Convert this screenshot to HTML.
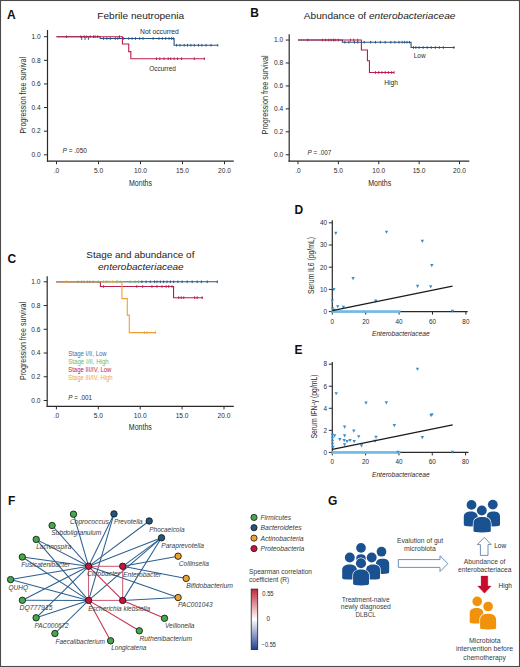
<!DOCTYPE html>
<html><head><meta charset="utf-8"><style>
html,body{margin:0;padding:0;background:#fff;}
.wrap{position:relative;width:520px;height:667px;overflow:hidden;}
svg{display:block;font-family:"Liberation Sans", sans-serif;}
</style></head><body><div class="wrap">
<svg width="520" height="667" viewBox="0 0 520 667">
<rect x="0" y="0" width="520" height="667" fill="#fff"/>
<line x1="47.50" y1="30.00" x2="47.50" y2="161.80" stroke="#2a2a2a" stroke-width="1.2"/>
<line x1="46.90" y1="161.20" x2="233.80" y2="161.20" stroke="#2a2a2a" stroke-width="1.2"/>
<line x1="44.00" y1="154.80" x2="47.50" y2="154.80" stroke="#2a2a2a" stroke-width="1"/>
<text x="40.6" y="157.10000000000002" font-size="6.6" text-anchor="end" fill="#2b2b2b">0.0</text>
<line x1="44.00" y1="131.18" x2="47.50" y2="131.18" stroke="#2a2a2a" stroke-width="1"/>
<text x="40.6" y="133.48000000000002" font-size="6.6" text-anchor="end" fill="#2b2b2b">0.2</text>
<line x1="44.00" y1="107.56" x2="47.50" y2="107.56" stroke="#2a2a2a" stroke-width="1"/>
<text x="40.6" y="109.86" font-size="6.6" text-anchor="end" fill="#2b2b2b">0.4</text>
<line x1="44.00" y1="83.94" x2="47.50" y2="83.94" stroke="#2a2a2a" stroke-width="1"/>
<text x="40.6" y="86.24" font-size="6.6" text-anchor="end" fill="#2b2b2b">0.6</text>
<line x1="44.00" y1="60.32" x2="47.50" y2="60.32" stroke="#2a2a2a" stroke-width="1"/>
<text x="40.6" y="62.620000000000005" font-size="6.6" text-anchor="end" fill="#2b2b2b">0.8</text>
<line x1="44.00" y1="36.70" x2="47.50" y2="36.70" stroke="#2a2a2a" stroke-width="1"/>
<text x="40.6" y="39.000000000000014" font-size="6.6" text-anchor="end" fill="#2b2b2b">1.0</text>
<line x1="56.50" y1="161.20" x2="56.50" y2="164.20" stroke="#2a2a2a" stroke-width="1"/>
<text x="56.5" y="173.0" font-size="6.6" text-anchor="middle" fill="#2b2b2b">.0</text>
<line x1="98.50" y1="161.20" x2="98.50" y2="164.20" stroke="#2a2a2a" stroke-width="1"/>
<text x="98.5" y="173.0" font-size="6.6" text-anchor="middle" fill="#2b2b2b">5.0</text>
<line x1="140.50" y1="161.20" x2="140.50" y2="164.20" stroke="#2a2a2a" stroke-width="1"/>
<text x="140.5" y="173.0" font-size="6.6" text-anchor="middle" fill="#2b2b2b">10.0</text>
<line x1="182.50" y1="161.20" x2="182.50" y2="164.20" stroke="#2a2a2a" stroke-width="1"/>
<text x="182.5" y="173.0" font-size="6.6" text-anchor="middle" fill="#2b2b2b">15.0</text>
<line x1="224.50" y1="161.20" x2="224.50" y2="164.20" stroke="#2a2a2a" stroke-width="1"/>
<text x="224.5" y="173.0" font-size="6.6" text-anchor="middle" fill="#2b2b2b">20.0</text>
<text transform="translate(26.3,95.3) rotate(-90)" font-size="8.6" text-anchor="middle" textLength="76.5" lengthAdjust="spacingAndGlyphs" fill="#2b2b2b">Progression free survival</text>
<text x="129" y="185.8" font-size="8.8" textLength="23" lengthAdjust="spacingAndGlyphs" fill="#2b2b2b">Months</text>
<text x="7" y="19" font-size="12" font-weight="bold" fill="#111">A</text>
<text x="97.3" y="19.4" font-size="9.2" textLength="86.9" lengthAdjust="spacingAndGlyphs" fill="#222">Febrile neutropenia</text>
<text x="140" y="34.1" font-size="6.6" textLength="38.8" lengthAdjust="spacingAndGlyphs" fill="#2b2b2b">Not occurred</text>
<text x="149.2" y="70.7" font-size="6.6" textLength="26.7" lengthAdjust="spacingAndGlyphs" fill="#2b2b2b">Occurred</text>
<text x="62.5" y="152.5" font-size="6.3" textLength="24.5" lengthAdjust="spacingAndGlyphs" fill="#2b2b2b"><tspan font-style="italic">P</tspan> = .050</text>
<polyline points="56.50,36.70 100.18,36.70 100.18,36.70 100.18,38.50 174.10,38.50 174.10,38.50 174.10,45.20 217.78,45.20" fill="none" stroke="#245384" stroke-width="1.1"/>
<line x1="81.70" y1="37.20" x2="81.70" y2="39.80" stroke="#245384" stroke-width="1.0"/>
<line x1="85.06" y1="37.20" x2="85.06" y2="39.80" stroke="#245384" stroke-width="1.0"/>
<line x1="88.42" y1="37.20" x2="88.42" y2="39.80" stroke="#245384" stroke-width="1.0"/>
<line x1="103.54" y1="37.20" x2="103.54" y2="39.80" stroke="#245384" stroke-width="1.0"/>
<line x1="106.90" y1="37.20" x2="106.90" y2="39.80" stroke="#245384" stroke-width="1.0"/>
<line x1="110.26" y1="37.20" x2="110.26" y2="39.80" stroke="#245384" stroke-width="1.0"/>
<line x1="115.30" y1="37.20" x2="115.30" y2="39.80" stroke="#245384" stroke-width="1.0"/>
<line x1="117.82" y1="37.20" x2="117.82" y2="39.80" stroke="#245384" stroke-width="1.0"/>
<line x1="123.70" y1="37.20" x2="123.70" y2="39.80" stroke="#245384" stroke-width="1.0"/>
<line x1="128.74" y1="37.20" x2="128.74" y2="39.80" stroke="#245384" stroke-width="1.0"/>
<line x1="132.10" y1="37.20" x2="132.10" y2="39.80" stroke="#245384" stroke-width="1.0"/>
<line x1="135.46" y1="37.20" x2="135.46" y2="39.80" stroke="#245384" stroke-width="1.0"/>
<line x1="139.66" y1="37.20" x2="139.66" y2="39.80" stroke="#245384" stroke-width="1.0"/>
<line x1="143.02" y1="37.20" x2="143.02" y2="39.80" stroke="#245384" stroke-width="1.0"/>
<line x1="153.10" y1="37.20" x2="153.10" y2="39.80" stroke="#245384" stroke-width="1.0"/>
<line x1="158.98" y1="37.20" x2="158.98" y2="39.80" stroke="#245384" stroke-width="1.0"/>
<line x1="162.34" y1="37.20" x2="162.34" y2="39.80" stroke="#245384" stroke-width="1.0"/>
<line x1="165.70" y1="37.20" x2="165.70" y2="39.80" stroke="#245384" stroke-width="1.0"/>
<line x1="169.06" y1="37.20" x2="169.06" y2="39.80" stroke="#245384" stroke-width="1.0"/>
<line x1="171.58" y1="37.20" x2="171.58" y2="39.80" stroke="#245384" stroke-width="1.0"/>
<line x1="173.26" y1="37.20" x2="173.26" y2="39.80" stroke="#245384" stroke-width="1.0"/>
<line x1="176.62" y1="43.90" x2="176.62" y2="46.50" stroke="#245384" stroke-width="1.0"/>
<line x1="179.98" y1="43.90" x2="179.98" y2="46.50" stroke="#245384" stroke-width="1.0"/>
<line x1="184.18" y1="43.90" x2="184.18" y2="46.50" stroke="#245384" stroke-width="1.0"/>
<line x1="187.54" y1="43.90" x2="187.54" y2="46.50" stroke="#245384" stroke-width="1.0"/>
<line x1="190.90" y1="43.90" x2="190.90" y2="46.50" stroke="#245384" stroke-width="1.0"/>
<line x1="194.26" y1="43.90" x2="194.26" y2="46.50" stroke="#245384" stroke-width="1.0"/>
<line x1="198.46" y1="43.90" x2="198.46" y2="46.50" stroke="#245384" stroke-width="1.0"/>
<line x1="201.82" y1="43.90" x2="201.82" y2="46.50" stroke="#245384" stroke-width="1.0"/>
<line x1="206.02" y1="43.90" x2="206.02" y2="46.50" stroke="#245384" stroke-width="1.0"/>
<line x1="211.06" y1="43.90" x2="211.06" y2="46.50" stroke="#245384" stroke-width="1.0"/>
<line x1="217.78" y1="43.90" x2="217.78" y2="46.50" stroke="#245384" stroke-width="1.0"/>
<polyline points="56.50,36.70 122.44,36.70 122.44,36.70 122.44,44.00 128.74,44.00 128.74,44.00 128.74,51.60 130.84,51.60 130.84,51.60 130.84,58.70 204.34,58.70" fill="none" stroke="#bb1d4a" stroke-width="1.1"/>
<line x1="66.58" y1="35.40" x2="66.58" y2="38.00" stroke="#bb1d4a" stroke-width="1.0"/>
<line x1="80.86" y1="35.40" x2="80.86" y2="38.00" stroke="#bb1d4a" stroke-width="1.0"/>
<line x1="84.22" y1="35.40" x2="84.22" y2="38.00" stroke="#bb1d4a" stroke-width="1.0"/>
<line x1="86.74" y1="35.40" x2="86.74" y2="38.00" stroke="#bb1d4a" stroke-width="1.0"/>
<line x1="90.10" y1="35.40" x2="90.10" y2="38.00" stroke="#bb1d4a" stroke-width="1.0"/>
<line x1="93.46" y1="35.40" x2="93.46" y2="38.00" stroke="#bb1d4a" stroke-width="1.0"/>
<line x1="95.14" y1="35.40" x2="95.14" y2="38.00" stroke="#bb1d4a" stroke-width="1.0"/>
<line x1="97.66" y1="35.40" x2="97.66" y2="38.00" stroke="#bb1d4a" stroke-width="1.0"/>
<line x1="119.50" y1="35.40" x2="119.50" y2="38.00" stroke="#bb1d4a" stroke-width="1.0"/>
<line x1="156.46" y1="57.40" x2="156.46" y2="60.00" stroke="#bb1d4a" stroke-width="1.0"/>
<line x1="159.82" y1="57.40" x2="159.82" y2="60.00" stroke="#bb1d4a" stroke-width="1.0"/>
<line x1="164.02" y1="57.40" x2="164.02" y2="60.00" stroke="#bb1d4a" stroke-width="1.0"/>
<line x1="168.22" y1="57.40" x2="168.22" y2="60.00" stroke="#bb1d4a" stroke-width="1.0"/>
<line x1="170.74" y1="57.40" x2="170.74" y2="60.00" stroke="#bb1d4a" stroke-width="1.0"/>
<line x1="174.10" y1="57.40" x2="174.10" y2="60.00" stroke="#bb1d4a" stroke-width="1.0"/>
<line x1="177.46" y1="57.40" x2="177.46" y2="60.00" stroke="#bb1d4a" stroke-width="1.0"/>
<line x1="181.66" y1="57.40" x2="181.66" y2="60.00" stroke="#bb1d4a" stroke-width="1.0"/>
<line x1="194.26" y1="57.40" x2="194.26" y2="60.00" stroke="#bb1d4a" stroke-width="1.0"/>
<line x1="204.34" y1="57.40" x2="204.34" y2="60.00" stroke="#bb1d4a" stroke-width="1.0"/>
<line x1="289.20" y1="34.30" x2="289.20" y2="161.80" stroke="#2a2a2a" stroke-width="1.2"/>
<line x1="288.60" y1="161.20" x2="469.30" y2="161.20" stroke="#2a2a2a" stroke-width="1.2"/>
<line x1="285.70" y1="154.75" x2="289.20" y2="154.75" stroke="#2a2a2a" stroke-width="1"/>
<text x="283.2" y="157.05" font-size="6.6" text-anchor="end" fill="#2b2b2b">0.0</text>
<line x1="285.70" y1="131.81" x2="289.20" y2="131.81" stroke="#2a2a2a" stroke-width="1"/>
<text x="283.2" y="134.11" font-size="6.6" text-anchor="end" fill="#2b2b2b">0.2</text>
<line x1="285.70" y1="108.87" x2="289.20" y2="108.87" stroke="#2a2a2a" stroke-width="1"/>
<text x="283.2" y="111.17" font-size="6.6" text-anchor="end" fill="#2b2b2b">0.4</text>
<line x1="285.70" y1="85.93" x2="289.20" y2="85.93" stroke="#2a2a2a" stroke-width="1"/>
<text x="283.2" y="88.22999999999999" font-size="6.6" text-anchor="end" fill="#2b2b2b">0.6</text>
<line x1="285.70" y1="62.99" x2="289.20" y2="62.99" stroke="#2a2a2a" stroke-width="1"/>
<text x="283.2" y="65.28999999999999" font-size="6.6" text-anchor="end" fill="#2b2b2b">0.8</text>
<line x1="285.70" y1="40.05" x2="289.20" y2="40.05" stroke="#2a2a2a" stroke-width="1"/>
<text x="283.2" y="42.349999999999994" font-size="6.6" text-anchor="end" fill="#2b2b2b">1.0</text>
<line x1="298.00" y1="161.20" x2="298.00" y2="164.20" stroke="#2a2a2a" stroke-width="1"/>
<text x="298.0" y="173.0" font-size="6.6" text-anchor="middle" fill="#2b2b2b">.0</text>
<line x1="338.38" y1="161.20" x2="338.38" y2="164.20" stroke="#2a2a2a" stroke-width="1"/>
<text x="338.375" y="173.0" font-size="6.6" text-anchor="middle" fill="#2b2b2b">5.0</text>
<line x1="378.75" y1="161.20" x2="378.75" y2="164.20" stroke="#2a2a2a" stroke-width="1"/>
<text x="378.75" y="173.0" font-size="6.6" text-anchor="middle" fill="#2b2b2b">10.0</text>
<line x1="419.12" y1="161.20" x2="419.12" y2="164.20" stroke="#2a2a2a" stroke-width="1"/>
<text x="419.125" y="173.0" font-size="6.6" text-anchor="middle" fill="#2b2b2b">15.0</text>
<line x1="459.50" y1="161.20" x2="459.50" y2="164.20" stroke="#2a2a2a" stroke-width="1"/>
<text x="459.5" y="173.0" font-size="6.6" text-anchor="middle" fill="#2b2b2b">20.0</text>
<text transform="translate(268.2,94.9) rotate(-90)" font-size="8.6" text-anchor="middle" textLength="79" lengthAdjust="spacingAndGlyphs" fill="#2b2b2b">Progression free survival</text>
<text x="368.2" y="185.6" font-size="8.8" textLength="23" lengthAdjust="spacingAndGlyphs" fill="#2b2b2b">Months</text>
<text x="250.3" y="16.8" font-size="12" font-weight="bold" fill="#111">B</text>
<text x="303.8" y="19.2" font-size="9.2" textLength="151.6" lengthAdjust="spacingAndGlyphs" fill="#222">Abundance of <tspan font-style="italic">enterobacteriaceae</tspan></text>
<text x="413.8" y="57.8" font-size="6.6" textLength="11.7" lengthAdjust="spacingAndGlyphs" fill="#2b2b2b">Low</text>
<text x="384.3" y="84.8" font-size="6.6" textLength="13.7" lengthAdjust="spacingAndGlyphs" fill="#2b2b2b">High</text>
<text x="307.5" y="154.5" font-size="6.3" textLength="23.8" lengthAdjust="spacingAndGlyphs" fill="#2b2b2b"><tspan font-style="italic">P</tspan> = .007</text>
<polyline points="298.00,40.05 342.41,40.05 342.41,40.05 342.41,42.20 411.05,42.20 411.05,42.20 411.05,47.50 454.65,47.50" fill="none" stroke="#245384" stroke-width="1.1"/>
<line x1="344.83" y1="40.90" x2="344.83" y2="43.50" stroke="#245384" stroke-width="1.0"/>
<line x1="348.87" y1="40.90" x2="348.87" y2="43.50" stroke="#245384" stroke-width="1.0"/>
<line x1="354.52" y1="40.90" x2="354.52" y2="43.50" stroke="#245384" stroke-width="1.0"/>
<line x1="357.75" y1="40.90" x2="357.75" y2="43.50" stroke="#245384" stroke-width="1.0"/>
<line x1="364.21" y1="40.90" x2="364.21" y2="43.50" stroke="#245384" stroke-width="1.0"/>
<line x1="370.68" y1="40.90" x2="370.68" y2="43.50" stroke="#245384" stroke-width="1.0"/>
<line x1="375.52" y1="40.90" x2="375.52" y2="43.50" stroke="#245384" stroke-width="1.0"/>
<line x1="380.37" y1="40.90" x2="380.37" y2="43.50" stroke="#245384" stroke-width="1.0"/>
<line x1="385.21" y1="40.90" x2="385.21" y2="43.50" stroke="#245384" stroke-width="1.0"/>
<line x1="390.86" y1="40.90" x2="390.86" y2="43.50" stroke="#245384" stroke-width="1.0"/>
<line x1="394.90" y1="40.90" x2="394.90" y2="43.50" stroke="#245384" stroke-width="1.0"/>
<line x1="398.94" y1="40.90" x2="398.94" y2="43.50" stroke="#245384" stroke-width="1.0"/>
<line x1="402.17" y1="40.90" x2="402.17" y2="43.50" stroke="#245384" stroke-width="1.0"/>
<line x1="404.59" y1="40.90" x2="404.59" y2="43.50" stroke="#245384" stroke-width="1.0"/>
<line x1="407.01" y1="40.90" x2="407.01" y2="43.50" stroke="#245384" stroke-width="1.0"/>
<line x1="409.44" y1="40.90" x2="409.44" y2="43.50" stroke="#245384" stroke-width="1.0"/>
<line x1="413.47" y1="46.20" x2="413.47" y2="48.80" stroke="#245384" stroke-width="1.0"/>
<line x1="415.89" y1="46.20" x2="415.89" y2="48.80" stroke="#245384" stroke-width="1.0"/>
<line x1="419.12" y1="46.20" x2="419.12" y2="48.80" stroke="#245384" stroke-width="1.0"/>
<line x1="423.16" y1="46.20" x2="423.16" y2="48.80" stroke="#245384" stroke-width="1.0"/>
<line x1="427.20" y1="46.20" x2="427.20" y2="48.80" stroke="#245384" stroke-width="1.0"/>
<line x1="431.24" y1="46.20" x2="431.24" y2="48.80" stroke="#245384" stroke-width="1.0"/>
<line x1="435.27" y1="46.20" x2="435.27" y2="48.80" stroke="#245384" stroke-width="1.0"/>
<line x1="439.31" y1="46.20" x2="439.31" y2="48.80" stroke="#245384" stroke-width="1.0"/>
<line x1="443.35" y1="46.20" x2="443.35" y2="48.80" stroke="#245384" stroke-width="1.0"/>
<line x1="453.85" y1="46.20" x2="453.85" y2="48.80" stroke="#245384" stroke-width="1.0"/>
<polyline points="298.00,40.05 361.39,40.05 361.39,40.05 361.39,50.00 367.44,50.00 367.44,50.00 367.44,60.70 369.46,60.70 369.46,60.70 369.46,72.50 394.09,72.50" fill="none" stroke="#bb1d4a" stroke-width="1.1"/>
<line x1="307.69" y1="38.75" x2="307.69" y2="41.35" stroke="#bb1d4a" stroke-width="1.0"/>
<line x1="322.23" y1="38.75" x2="322.23" y2="41.35" stroke="#bb1d4a" stroke-width="1.0"/>
<line x1="325.45" y1="38.75" x2="325.45" y2="41.35" stroke="#bb1d4a" stroke-width="1.0"/>
<line x1="328.69" y1="38.75" x2="328.69" y2="41.35" stroke="#bb1d4a" stroke-width="1.0"/>
<line x1="331.11" y1="38.75" x2="331.11" y2="41.35" stroke="#bb1d4a" stroke-width="1.0"/>
<line x1="333.53" y1="38.75" x2="333.53" y2="41.35" stroke="#bb1d4a" stroke-width="1.0"/>
<line x1="335.14" y1="38.75" x2="335.14" y2="41.35" stroke="#bb1d4a" stroke-width="1.0"/>
<line x1="338.38" y1="38.75" x2="338.38" y2="41.35" stroke="#bb1d4a" stroke-width="1.0"/>
<line x1="350.49" y1="38.75" x2="350.49" y2="41.35" stroke="#bb1d4a" stroke-width="1.0"/>
<line x1="353.72" y1="38.75" x2="353.72" y2="41.35" stroke="#bb1d4a" stroke-width="1.0"/>
<line x1="357.75" y1="38.75" x2="357.75" y2="41.35" stroke="#bb1d4a" stroke-width="1.0"/>
<line x1="375.52" y1="71.20" x2="375.52" y2="73.80" stroke="#bb1d4a" stroke-width="1.0"/>
<line x1="378.75" y1="71.20" x2="378.75" y2="73.80" stroke="#bb1d4a" stroke-width="1.0"/>
<line x1="381.98" y1="71.20" x2="381.98" y2="73.80" stroke="#bb1d4a" stroke-width="1.0"/>
<line x1="385.21" y1="71.20" x2="385.21" y2="73.80" stroke="#bb1d4a" stroke-width="1.0"/>
<line x1="388.44" y1="71.20" x2="388.44" y2="73.80" stroke="#bb1d4a" stroke-width="1.0"/>
<line x1="391.67" y1="71.20" x2="391.67" y2="73.80" stroke="#bb1d4a" stroke-width="1.0"/>
<line x1="394.09" y1="71.20" x2="394.09" y2="73.80" stroke="#bb1d4a" stroke-width="1.0"/>
<line x1="47.20" y1="276.30" x2="47.20" y2="407.00" stroke="#2a2a2a" stroke-width="1.2"/>
<line x1="46.60" y1="406.40" x2="233.80" y2="406.40" stroke="#2a2a2a" stroke-width="1.2"/>
<line x1="43.70" y1="400.50" x2="47.20" y2="400.50" stroke="#2a2a2a" stroke-width="1"/>
<text x="40.4" y="402.8" font-size="6.6" text-anchor="end" fill="#2b2b2b">0.0</text>
<line x1="43.70" y1="376.76" x2="47.20" y2="376.76" stroke="#2a2a2a" stroke-width="1"/>
<text x="40.4" y="379.06" font-size="6.6" text-anchor="end" fill="#2b2b2b">0.2</text>
<line x1="43.70" y1="353.02" x2="47.20" y2="353.02" stroke="#2a2a2a" stroke-width="1"/>
<text x="40.4" y="355.32" font-size="6.6" text-anchor="end" fill="#2b2b2b">0.4</text>
<line x1="43.70" y1="329.28" x2="47.20" y2="329.28" stroke="#2a2a2a" stroke-width="1"/>
<text x="40.4" y="331.58" font-size="6.6" text-anchor="end" fill="#2b2b2b">0.6</text>
<line x1="43.70" y1="305.54" x2="47.20" y2="305.54" stroke="#2a2a2a" stroke-width="1"/>
<text x="40.4" y="307.84" font-size="6.6" text-anchor="end" fill="#2b2b2b">0.8</text>
<line x1="43.70" y1="281.80" x2="47.20" y2="281.80" stroke="#2a2a2a" stroke-width="1"/>
<text x="40.4" y="284.1" font-size="6.6" text-anchor="end" fill="#2b2b2b">1.0</text>
<line x1="56.40" y1="406.40" x2="56.40" y2="409.40" stroke="#2a2a2a" stroke-width="1"/>
<text x="56.4" y="418.2" font-size="6.6" text-anchor="middle" fill="#2b2b2b">.0</text>
<line x1="98.30" y1="406.40" x2="98.30" y2="409.40" stroke="#2a2a2a" stroke-width="1"/>
<text x="98.30000000000001" y="418.2" font-size="6.6" text-anchor="middle" fill="#2b2b2b">5.0</text>
<line x1="140.20" y1="406.40" x2="140.20" y2="409.40" stroke="#2a2a2a" stroke-width="1"/>
<text x="140.20000000000002" y="418.2" font-size="6.6" text-anchor="middle" fill="#2b2b2b">10.0</text>
<line x1="182.10" y1="406.40" x2="182.10" y2="409.40" stroke="#2a2a2a" stroke-width="1"/>
<text x="182.10000000000002" y="418.2" font-size="6.6" text-anchor="middle" fill="#2b2b2b">15.0</text>
<line x1="224.00" y1="406.40" x2="224.00" y2="409.40" stroke="#2a2a2a" stroke-width="1"/>
<text x="224.00000000000003" y="418.2" font-size="6.6" text-anchor="middle" fill="#2b2b2b">20.0</text>
<text transform="translate(26.3,341) rotate(-90)" font-size="8.6" text-anchor="middle" textLength="78" lengthAdjust="spacingAndGlyphs" fill="#2b2b2b">Progression free survival</text>
<text x="128.8" y="430.3" font-size="8.8" textLength="23" lengthAdjust="spacingAndGlyphs" fill="#2b2b2b">Months</text>
<text x="7.5" y="263.2" font-size="12" font-weight="bold" fill="#111">C</text>
<text x="86.3" y="257.5" font-size="9.2" textLength="108.1" lengthAdjust="spacingAndGlyphs" fill="#222">Stage and abundance of</text>
<text x="98" y="269.5" font-size="9.2" font-style="italic" textLength="85.7" lengthAdjust="spacingAndGlyphs" fill="#222">enterobacteriaceae</text>
<text x="68.2" y="356.2" font-size="6.4" textLength="38.5" lengthAdjust="spacingAndGlyphs" fill="#3a6fa5">Stage I/II, Low</text>
<text x="68.2" y="364.1" font-size="6.4" textLength="40.6" lengthAdjust="spacingAndGlyphs" fill="#6db86d">Stage I/II, High</text>
<text x="68.2" y="372.1" font-size="6.4" textLength="43.2" lengthAdjust="spacingAndGlyphs" fill="#b8244e">Stage III/IV, Low</text>
<text x="68.2" y="379.9" font-size="6.4" textLength="44.5" lengthAdjust="spacingAndGlyphs" fill="#f2a640">Stage III/IV, High</text>
<text x="68.2" y="400.2" font-size="6.3" textLength="23.8" lengthAdjust="spacingAndGlyphs" fill="#2b2b2b"><tspan font-style="italic">P</tspan> = .001</text>
<polyline points="56.40,281.80 217.30,281.80" fill="none" stroke="#245384" stroke-width="1.1"/>
<line x1="141.88" y1="280.50" x2="141.88" y2="283.10" stroke="#245384" stroke-width="1.0"/>
<line x1="146.07" y1="280.50" x2="146.07" y2="283.10" stroke="#245384" stroke-width="1.0"/>
<line x1="150.26" y1="280.50" x2="150.26" y2="283.10" stroke="#245384" stroke-width="1.0"/>
<line x1="154.45" y1="280.50" x2="154.45" y2="283.10" stroke="#245384" stroke-width="1.0"/>
<line x1="156.96" y1="280.50" x2="156.96" y2="283.10" stroke="#245384" stroke-width="1.0"/>
<line x1="160.31" y1="280.50" x2="160.31" y2="283.10" stroke="#245384" stroke-width="1.0"/>
<line x1="163.66" y1="280.50" x2="163.66" y2="283.10" stroke="#245384" stroke-width="1.0"/>
<line x1="167.02" y1="280.50" x2="167.02" y2="283.10" stroke="#245384" stroke-width="1.0"/>
<line x1="170.37" y1="280.50" x2="170.37" y2="283.10" stroke="#245384" stroke-width="1.0"/>
<line x1="173.72" y1="280.50" x2="173.72" y2="283.10" stroke="#245384" stroke-width="1.0"/>
<line x1="177.91" y1="280.50" x2="177.91" y2="283.10" stroke="#245384" stroke-width="1.0"/>
<line x1="182.10" y1="280.50" x2="182.10" y2="283.10" stroke="#245384" stroke-width="1.0"/>
<line x1="187.13" y1="280.50" x2="187.13" y2="283.10" stroke="#245384" stroke-width="1.0"/>
<line x1="192.16" y1="280.50" x2="192.16" y2="283.10" stroke="#245384" stroke-width="1.0"/>
<line x1="197.18" y1="280.50" x2="197.18" y2="283.10" stroke="#245384" stroke-width="1.0"/>
<line x1="201.37" y1="280.50" x2="201.37" y2="283.10" stroke="#245384" stroke-width="1.0"/>
<line x1="207.24" y1="280.50" x2="207.24" y2="283.10" stroke="#245384" stroke-width="1.0"/>
<line x1="217.30" y1="280.50" x2="217.30" y2="283.10" stroke="#245384" stroke-width="1.0"/>
<polyline points="56.40,281.80 140.20,281.80" fill="none" stroke="#6bb56b" stroke-width="1.1"/>
<line x1="78.19" y1="280.50" x2="78.19" y2="283.10" stroke="#6bb56b" stroke-width="1.0"/>
<line x1="81.54" y1="280.50" x2="81.54" y2="283.10" stroke="#6bb56b" stroke-width="1.0"/>
<line x1="84.05" y1="280.50" x2="84.05" y2="283.10" stroke="#6bb56b" stroke-width="1.0"/>
<line x1="87.41" y1="280.50" x2="87.41" y2="283.10" stroke="#6bb56b" stroke-width="1.0"/>
<line x1="89.92" y1="280.50" x2="89.92" y2="283.10" stroke="#6bb56b" stroke-width="1.0"/>
<line x1="93.27" y1="280.50" x2="93.27" y2="283.10" stroke="#6bb56b" stroke-width="1.0"/>
<line x1="98.30" y1="280.50" x2="98.30" y2="283.10" stroke="#6bb56b" stroke-width="1.0"/>
<line x1="103.33" y1="280.50" x2="103.33" y2="283.10" stroke="#6bb56b" stroke-width="1.0"/>
<line x1="106.68" y1="280.50" x2="106.68" y2="283.10" stroke="#6bb56b" stroke-width="1.0"/>
<line x1="116.74" y1="280.50" x2="116.74" y2="283.10" stroke="#6bb56b" stroke-width="1.0"/>
<line x1="120.09" y1="280.50" x2="120.09" y2="283.10" stroke="#6bb56b" stroke-width="1.0"/>
<line x1="130.14" y1="280.50" x2="130.14" y2="283.10" stroke="#6bb56b" stroke-width="1.0"/>
<line x1="135.17" y1="280.50" x2="135.17" y2="283.10" stroke="#6bb56b" stroke-width="1.0"/>
<line x1="138.52" y1="280.50" x2="138.52" y2="283.10" stroke="#6bb56b" stroke-width="1.0"/>
<polyline points="56.40,281.80 100.40,281.80 100.40,281.80 100.40,286.50 173.55,286.50 173.55,286.50 173.55,297.70 203.05,297.70" fill="none" stroke="#bb1d4a" stroke-width="1.1"/>
<line x1="103.33" y1="285.20" x2="103.33" y2="287.80" stroke="#bb1d4a" stroke-width="1.0"/>
<line x1="136.85" y1="285.20" x2="136.85" y2="287.80" stroke="#bb1d4a" stroke-width="1.0"/>
<line x1="142.71" y1="285.20" x2="142.71" y2="287.80" stroke="#bb1d4a" stroke-width="1.0"/>
<line x1="151.93" y1="285.20" x2="151.93" y2="287.80" stroke="#bb1d4a" stroke-width="1.0"/>
<line x1="156.96" y1="285.20" x2="156.96" y2="287.80" stroke="#bb1d4a" stroke-width="1.0"/>
<line x1="161.99" y1="285.20" x2="161.99" y2="287.80" stroke="#bb1d4a" stroke-width="1.0"/>
<line x1="166.18" y1="285.20" x2="166.18" y2="287.80" stroke="#bb1d4a" stroke-width="1.0"/>
<line x1="168.69" y1="285.20" x2="168.69" y2="287.80" stroke="#bb1d4a" stroke-width="1.0"/>
<line x1="172.04" y1="285.20" x2="172.04" y2="287.80" stroke="#bb1d4a" stroke-width="1.0"/>
<line x1="178.75" y1="296.40" x2="178.75" y2="299.00" stroke="#bb1d4a" stroke-width="1.0"/>
<line x1="181.26" y1="296.40" x2="181.26" y2="299.00" stroke="#bb1d4a" stroke-width="1.0"/>
<line x1="183.78" y1="296.40" x2="183.78" y2="299.00" stroke="#bb1d4a" stroke-width="1.0"/>
<line x1="194.67" y1="296.40" x2="194.67" y2="299.00" stroke="#bb1d4a" stroke-width="1.0"/>
<line x1="197.18" y1="296.40" x2="197.18" y2="299.00" stroke="#bb1d4a" stroke-width="1.0"/>
<line x1="202.21" y1="296.40" x2="202.21" y2="299.00" stroke="#bb1d4a" stroke-width="1.0"/>
<polyline points="56.40,281.80 121.93,281.80 121.93,281.80 121.93,298.60 127.29,298.60 127.29,298.60 127.29,315.10 129.31,315.10 129.31,315.10 129.31,332.60 155.70,332.60" fill="none" stroke="#f0a030" stroke-width="1.1"/>
<line x1="66.46" y1="280.50" x2="66.46" y2="283.10" stroke="#f0a030" stroke-width="1.0"/>
<line x1="105.84" y1="280.50" x2="105.84" y2="283.10" stroke="#f0a030" stroke-width="1.0"/>
<line x1="109.19" y1="280.50" x2="109.19" y2="283.10" stroke="#f0a030" stroke-width="1.0"/>
<line x1="112.55" y1="280.50" x2="112.55" y2="283.10" stroke="#f0a030" stroke-width="1.0"/>
<line x1="117.57" y1="280.50" x2="117.57" y2="283.10" stroke="#f0a030" stroke-width="1.0"/>
<line x1="144.39" y1="331.30" x2="144.39" y2="333.90" stroke="#f0a030" stroke-width="1.0"/>
<line x1="146.90" y1="331.30" x2="146.90" y2="333.90" stroke="#f0a030" stroke-width="1.0"/>
<line x1="155.28" y1="331.30" x2="155.28" y2="333.90" stroke="#f0a030" stroke-width="1.0"/>
<text x="294.4" y="213.5" font-size="12" font-weight="bold" fill="#111">D</text>
<line x1="332.30" y1="220.20" x2="332.30" y2="312.20" stroke="#2a2a2a" stroke-width="1.2"/>
<line x1="331.70" y1="311.60" x2="467.70" y2="311.60" stroke="#2a2a2a" stroke-width="1.2"/>
<line x1="328.80" y1="311.60" x2="332.30" y2="311.60" stroke="#2a2a2a" stroke-width="1"/>
<text x="327.1" y="313.90000000000003" font-size="6.4" text-anchor="end" fill="#2b2b2b">0</text>
<line x1="328.80" y1="289.40" x2="332.30" y2="289.40" stroke="#2a2a2a" stroke-width="1"/>
<text x="327.1" y="291.70000000000005" font-size="6.4" text-anchor="end" fill="#2b2b2b">10</text>
<line x1="328.80" y1="267.20" x2="332.30" y2="267.20" stroke="#2a2a2a" stroke-width="1"/>
<text x="327.1" y="269.50000000000006" font-size="6.4" text-anchor="end" fill="#2b2b2b">20</text>
<line x1="328.80" y1="245.00" x2="332.30" y2="245.00" stroke="#2a2a2a" stroke-width="1"/>
<text x="327.1" y="247.3" font-size="6.4" text-anchor="end" fill="#2b2b2b">30</text>
<line x1="328.80" y1="222.80" x2="332.30" y2="222.80" stroke="#2a2a2a" stroke-width="1"/>
<text x="327.1" y="225.10000000000002" font-size="6.4" text-anchor="end" fill="#2b2b2b">40</text>
<line x1="332.30" y1="311.60" x2="332.30" y2="314.60" stroke="#2a2a2a" stroke-width="1"/>
<text x="332.3" y="323.6" font-size="6.4" text-anchor="middle" fill="#2b2b2b">0</text>
<line x1="365.70" y1="311.60" x2="365.70" y2="314.60" stroke="#2a2a2a" stroke-width="1"/>
<text x="365.7" y="323.6" font-size="6.4" text-anchor="middle" fill="#2b2b2b">20</text>
<line x1="399.10" y1="311.60" x2="399.10" y2="314.60" stroke="#2a2a2a" stroke-width="1"/>
<text x="399.1" y="323.6" font-size="6.4" text-anchor="middle" fill="#2b2b2b">40</text>
<line x1="432.50" y1="311.60" x2="432.50" y2="314.60" stroke="#2a2a2a" stroke-width="1"/>
<text x="432.5" y="323.6" font-size="6.4" text-anchor="middle" fill="#2b2b2b">60</text>
<line x1="465.90" y1="311.60" x2="465.90" y2="314.60" stroke="#2a2a2a" stroke-width="1"/>
<text x="465.9" y="323.6" font-size="6.4" text-anchor="middle" fill="#2b2b2b">80</text>
<text transform="translate(314.2,265.5) rotate(-90)" font-size="8.8" text-anchor="middle" textLength="57" lengthAdjust="spacingAndGlyphs" fill="#2b2b2b">Serum IL6 (pg/mL)</text>
<text x="372" y="336" font-size="8" font-style="italic" textLength="57.6" lengthAdjust="spacingAndGlyphs" fill="#2b2b2b">Enterobacteriaceae</text>
<rect x="331.5" y="310.2" width="69" height="2.6" fill="#6fbbe6"/>
<path d="M334.10,231.74L337.50,231.74L335.80,234.97Z" fill="#3a90c6"/>
<path d="M384.80,230.64L388.20,230.64L386.50,233.87Z" fill="#3a90c6"/>
<path d="M420.60,239.74L424.00,239.74L422.30,242.97Z" fill="#3a90c6"/>
<path d="M430.10,264.04L433.50,264.04L431.80,267.27Z" fill="#3a90c6"/>
<path d="M415.90,284.84L419.30,284.84L417.60,288.07Z" fill="#3a90c6"/>
<path d="M429.00,285.24L432.40,285.24L430.70,288.47Z" fill="#3a90c6"/>
<path d="M351.40,276.94L354.80,276.94L353.10,280.17Z" fill="#3a90c6"/>
<path d="M332.10,288.04L335.50,288.04L333.80,291.27Z" fill="#3a90c6"/>
<path d="M330.60,299.44L334.00,299.44L332.30,302.67Z" fill="#3a90c6"/>
<path d="M336.00,305.14L339.40,305.14L337.70,308.37Z" fill="#3a90c6"/>
<path d="M341.70,305.64L345.10,305.64L343.40,308.87Z" fill="#3a90c6"/>
<path d="M374.00,299.44L377.40,299.44L375.70,302.67Z" fill="#3a90c6"/>
<path d="M330.80,307.14L334.20,307.14L332.50,310.37Z" fill="#3a90c6"/>
<path d="M332.30,308.64L335.70,308.64L334.00,311.87Z" fill="#3a90c6"/>
<path d="M450.80,309.64L454.20,309.64L452.50,312.87Z" fill="#3a90c6"/>
<line x1="332.30" y1="310.60" x2="452.50" y2="286.20" stroke="#1a1a1a" stroke-width="1.2"/>
<text x="294.4" y="354.4" font-size="12" font-weight="bold" fill="#111">E</text>
<line x1="332.30" y1="362.10" x2="332.30" y2="453.00" stroke="#2a2a2a" stroke-width="1.2"/>
<line x1="331.70" y1="452.40" x2="468.50" y2="452.40" stroke="#2a2a2a" stroke-width="1.2"/>
<line x1="328.80" y1="452.40" x2="332.30" y2="452.40" stroke="#2a2a2a" stroke-width="1"/>
<text x="327.1" y="454.7" font-size="6.4" text-anchor="end" fill="#2b2b2b">0</text>
<line x1="328.80" y1="430.34" x2="332.30" y2="430.34" stroke="#2a2a2a" stroke-width="1"/>
<text x="327.1" y="432.64" font-size="6.4" text-anchor="end" fill="#2b2b2b">2</text>
<line x1="328.80" y1="408.28" x2="332.30" y2="408.28" stroke="#2a2a2a" stroke-width="1"/>
<text x="327.1" y="410.58" font-size="6.4" text-anchor="end" fill="#2b2b2b">4</text>
<line x1="328.80" y1="386.22" x2="332.30" y2="386.22" stroke="#2a2a2a" stroke-width="1"/>
<text x="327.1" y="388.52" font-size="6.4" text-anchor="end" fill="#2b2b2b">6</text>
<line x1="328.80" y1="364.16" x2="332.30" y2="364.16" stroke="#2a2a2a" stroke-width="1"/>
<text x="327.1" y="366.46" font-size="6.4" text-anchor="end" fill="#2b2b2b">8</text>
<line x1="332.30" y1="452.40" x2="332.30" y2="455.40" stroke="#2a2a2a" stroke-width="1"/>
<text x="332.3" y="464.4" font-size="6.4" text-anchor="middle" fill="#2b2b2b">0</text>
<line x1="365.62" y1="452.40" x2="365.62" y2="455.40" stroke="#2a2a2a" stroke-width="1"/>
<text x="365.62" y="464.4" font-size="6.4" text-anchor="middle" fill="#2b2b2b">20</text>
<line x1="398.94" y1="452.40" x2="398.94" y2="455.40" stroke="#2a2a2a" stroke-width="1"/>
<text x="398.94" y="464.4" font-size="6.4" text-anchor="middle" fill="#2b2b2b">40</text>
<line x1="432.26" y1="452.40" x2="432.26" y2="455.40" stroke="#2a2a2a" stroke-width="1"/>
<text x="432.26" y="464.4" font-size="6.4" text-anchor="middle" fill="#2b2b2b">60</text>
<line x1="465.58" y1="452.40" x2="465.58" y2="455.40" stroke="#2a2a2a" stroke-width="1"/>
<text x="465.58000000000004" y="464.4" font-size="6.4" text-anchor="middle" fill="#2b2b2b">80</text>
<text transform="translate(317.0,406.5) rotate(-90)" font-size="8.8" text-anchor="middle" textLength="64" lengthAdjust="spacingAndGlyphs" fill="#2b2b2b">Serum IFN-γ (pg/mL)</text>
<text x="372" y="476.5" font-size="8" font-style="italic" textLength="57.6" lengthAdjust="spacingAndGlyphs" fill="#2b2b2b">Enterobacteriaceae</text>
<rect x="331.5" y="451.2" width="69" height="2.6" fill="#6fbbe6"/>
<path d="M364.30,401.54L367.70,401.54L366.00,404.77Z" fill="#3a90c6"/>
<path d="M384.60,401.34L388.00,401.34L386.30,404.57Z" fill="#3a90c6"/>
<path d="M392.60,424.04L396.00,424.04L394.30,427.27Z" fill="#3a90c6"/>
<path d="M342.90,425.54L346.30,425.54L344.60,428.77Z" fill="#3a90c6"/>
<path d="M352.10,429.44L355.50,429.44L353.80,432.67Z" fill="#3a90c6"/>
<path d="M332.90,434.24L336.30,434.24L334.60,437.47Z" fill="#3a90c6"/>
<path d="M342.90,434.24L346.30,434.24L344.60,437.47Z" fill="#3a90c6"/>
<path d="M357.00,435.14L360.40,435.14L358.70,438.37Z" fill="#3a90c6"/>
<path d="M374.30,435.74L377.70,435.74L376.00,438.97Z" fill="#3a90c6"/>
<path d="M338.10,438.04L341.50,438.04L339.80,441.27Z" fill="#3a90c6"/>
<path d="M342.50,439.04L345.90,439.04L344.20,442.27Z" fill="#3a90c6"/>
<path d="M345.40,439.94L348.80,439.94L347.10,443.17Z" fill="#3a90c6"/>
<path d="M348.30,439.04L351.70,439.04L350.00,442.27Z" fill="#3a90c6"/>
<path d="M352.50,439.94L355.90,439.94L354.20,443.17Z" fill="#3a90c6"/>
<path d="M342.90,443.24L346.30,443.24L344.60,446.47Z" fill="#3a90c6"/>
<path d="M359.80,444.24L363.20,444.24L361.50,447.47Z" fill="#3a90c6"/>
<path d="M373.30,439.64L376.70,439.64L375.00,442.87Z" fill="#3a90c6"/>
<path d="M415.80,367.64L419.20,367.64L417.50,370.87Z" fill="#3a90c6"/>
<path d="M429.30,414.04L432.70,414.04L431.00,417.27Z" fill="#3a90c6"/>
<path d="M430.30,413.14L433.70,413.14L432.00,416.37Z" fill="#3a90c6"/>
<path d="M420.60,435.94L424.00,435.94L422.30,439.17Z" fill="#3a90c6"/>
<path d="M334.50,392.14L337.90,392.14L336.20,395.37Z" fill="#3a90c6"/>
<path d="M330.80,433.64L334.20,433.64L332.50,436.87Z" fill="#3a90c6"/>
<path d="M330.80,436.64L334.20,436.64L332.50,439.87Z" fill="#3a90c6"/>
<path d="M330.80,439.64L334.20,439.64L332.50,442.87Z" fill="#3a90c6"/>
<path d="M330.80,442.64L334.20,442.64L332.50,445.87Z" fill="#3a90c6"/>
<path d="M331.30,445.64L334.70,445.64L333.00,448.87Z" fill="#3a90c6"/>
<path d="M450.80,450.64L454.20,450.64L452.50,453.87Z" fill="#3a90c6"/>
<path d="M396.30,450.64L399.70,450.64L398.00,453.87Z" fill="#3a90c6"/>
<line x1="332.30" y1="449.40" x2="452.70" y2="424.80" stroke="#1a1a1a" stroke-width="1.2"/>
<text x="8" y="504.5" font-size="12" font-weight="bold" fill="#111">F</text>
<line x1="88.60" y1="566.30" x2="73.50" y2="514.20" stroke="#2d5f8e" stroke-width="1.05"/>
<line x1="88.60" y1="566.30" x2="114.00" y2="513.90" stroke="#2d5f8e" stroke-width="1.05"/>
<line x1="88.60" y1="566.30" x2="52.10" y2="525.50" stroke="#2d5f8e" stroke-width="1.05"/>
<line x1="88.60" y1="566.30" x2="36.20" y2="539.40" stroke="#2d5f8e" stroke-width="1.05"/>
<line x1="88.60" y1="566.30" x2="22.30" y2="557.00" stroke="#2d5f8e" stroke-width="1.05"/>
<line x1="88.60" y1="566.30" x2="10.60" y2="579.60" stroke="#2d5f8e" stroke-width="1.05"/>
<line x1="88.60" y1="566.30" x2="22.40" y2="600.30" stroke="#2d5f8e" stroke-width="1.05"/>
<line x1="88.60" y1="566.30" x2="36.10" y2="617.80" stroke="#2d5f8e" stroke-width="1.05"/>
<line x1="88.60" y1="566.30" x2="161.50" y2="537.80" stroke="#2d5f8e" stroke-width="1.05"/>
<line x1="88.60" y1="566.30" x2="149.20" y2="521.00" stroke="#2d5f8e" stroke-width="1.05"/>
<line x1="88.60" y1="566.30" x2="178.10" y2="597.50" stroke="#2d5f8e" stroke-width="1.05"/>
<line x1="88.60" y1="600.40" x2="114.00" y2="513.90" stroke="#2d5f8e" stroke-width="1.05"/>
<line x1="88.60" y1="600.40" x2="36.20" y2="539.40" stroke="#2d5f8e" stroke-width="1.05"/>
<line x1="88.60" y1="600.40" x2="22.30" y2="557.00" stroke="#2d5f8e" stroke-width="1.05"/>
<line x1="88.60" y1="600.40" x2="10.60" y2="579.60" stroke="#2d5f8e" stroke-width="1.05"/>
<line x1="88.60" y1="600.40" x2="22.40" y2="600.30" stroke="#2d5f8e" stroke-width="1.05"/>
<line x1="88.60" y1="600.40" x2="36.10" y2="617.80" stroke="#2d5f8e" stroke-width="1.05"/>
<line x1="88.60" y1="600.40" x2="54.90" y2="633.50" stroke="#2d5f8e" stroke-width="1.05"/>
<line x1="88.60" y1="600.40" x2="161.50" y2="537.80" stroke="#2d5f8e" stroke-width="1.05"/>
<line x1="122.70" y1="566.30" x2="161.50" y2="537.80" stroke="#2d5f8e" stroke-width="1.05"/>
<line x1="122.70" y1="566.30" x2="178.10" y2="556.20" stroke="#2d5f8e" stroke-width="1.05"/>
<line x1="122.70" y1="566.30" x2="186.20" y2="578.40" stroke="#2d5f8e" stroke-width="1.05"/>
<line x1="122.70" y1="600.40" x2="178.10" y2="597.50" stroke="#2d5f8e" stroke-width="1.05"/>
<line x1="122.70" y1="600.40" x2="161.50" y2="537.80" stroke="#2d5f8e" stroke-width="1.05"/>
<line x1="88.60" y1="600.40" x2="110.60" y2="640.80" stroke="#c4304f" stroke-width="1.05"/>
<line x1="88.60" y1="600.40" x2="139.30" y2="630.80" stroke="#c4304f" stroke-width="1.05"/>
<line x1="122.70" y1="600.40" x2="164.50" y2="618.30" stroke="#c4304f" stroke-width="1.05"/>
<line x1="88.60" y1="566.30" x2="122.70" y2="600.40" stroke="#c4304f" stroke-width="1.05"/>
<line x1="88.60" y1="566.30" x2="122.70" y2="566.30" stroke="#cc5470" stroke-width="1.0"/>
<line x1="88.60" y1="566.30" x2="88.60" y2="600.40" stroke="#cc5470" stroke-width="1.0"/>
<line x1="122.70" y1="566.30" x2="122.70" y2="600.40" stroke="#cc5470" stroke-width="1.0"/>
<line x1="88.60" y1="600.40" x2="122.70" y2="600.40" stroke="#cc5470" stroke-width="1.0"/>
<circle cx="73.5" cy="514.2" r="3.2" fill="#46a84a" stroke="#162016" stroke-width="0.9"/>
<circle cx="114" cy="513.9" r="3.2" fill="#245384" stroke="#162016" stroke-width="0.9"/>
<circle cx="52.1" cy="525.5" r="3.2" fill="#46a84a" stroke="#162016" stroke-width="0.9"/>
<circle cx="149.2" cy="521" r="3.2" fill="#245384" stroke="#162016" stroke-width="0.9"/>
<circle cx="36.2" cy="539.4" r="3.2" fill="#46a84a" stroke="#162016" stroke-width="0.9"/>
<circle cx="161.5" cy="537.8" r="3.2" fill="#245384" stroke="#162016" stroke-width="0.9"/>
<circle cx="22.3" cy="557" r="3.2" fill="#46a84a" stroke="#162016" stroke-width="0.9"/>
<circle cx="178.1" cy="556.2" r="3.2" fill="#f0a030" stroke="#162016" stroke-width="0.9"/>
<circle cx="10.6" cy="579.6" r="3.2" fill="#46a84a" stroke="#162016" stroke-width="0.9"/>
<circle cx="186.2" cy="578.4" r="3.2" fill="#f0a030" stroke="#162016" stroke-width="0.9"/>
<circle cx="22.4" cy="600.3" r="3.2" fill="#46a84a" stroke="#162016" stroke-width="0.9"/>
<circle cx="178.1" cy="597.5" r="3.2" fill="#f0a030" stroke="#162016" stroke-width="0.9"/>
<circle cx="36.1" cy="617.8" r="3.2" fill="#46a84a" stroke="#162016" stroke-width="0.9"/>
<circle cx="164.5" cy="618.3" r="3.2" fill="#46a84a" stroke="#162016" stroke-width="0.9"/>
<circle cx="54.9" cy="633.5" r="3.2" fill="#46a84a" stroke="#162016" stroke-width="0.9"/>
<circle cx="139.3" cy="630.8" r="3.2" fill="#46a84a" stroke="#162016" stroke-width="0.9"/>
<circle cx="110.6" cy="640.8" r="3.2" fill="#46a84a" stroke="#162016" stroke-width="0.9"/>
<circle cx="88.6" cy="566.3" r="3.2" fill="#c8123f" stroke="#162016" stroke-width="0.9"/>
<circle cx="122.7" cy="566.3" r="3.2" fill="#c8123f" stroke="#162016" stroke-width="0.9"/>
<circle cx="88.6" cy="600.4" r="3.2" fill="#c8123f" stroke="#162016" stroke-width="0.9"/>
<circle cx="122.7" cy="600.4" r="3.2" fill="#c8123f" stroke="#162016" stroke-width="0.9"/>
<text x="69.9" y="524.2" font-size="7" font-style="italic" textLength="38.9" lengthAdjust="spacingAndGlyphs" fill="#3a3a3a">Coprococcus</text>
<text x="113.9" y="524.2" font-size="7" font-style="italic" textLength="28.8" lengthAdjust="spacingAndGlyphs" fill="#3a3a3a">Prevotella</text>
<text x="51.3" y="535.3" font-size="7" font-style="italic" textLength="50" lengthAdjust="spacingAndGlyphs" fill="#3a3a3a">Subdoligranulum</text>
<text x="149.3" y="531.5" font-size="7" font-style="italic" textLength="35.2" lengthAdjust="spacingAndGlyphs" fill="#3a3a3a">Phocaeicola</text>
<text x="36.3" y="549.3" font-size="7" font-style="italic" textLength="35" lengthAdjust="spacingAndGlyphs" fill="#3a3a3a">Lachnospira</text>
<text x="161.3" y="547.8" font-size="7" font-style="italic" textLength="42.5" lengthAdjust="spacingAndGlyphs" fill="#3a3a3a">Paraprevotella</text>
<text x="21.3" y="567.3" font-size="7" font-style="italic" textLength="48.7" lengthAdjust="spacingAndGlyphs" fill="#3a3a3a">Fusicatenibacter</text>
<text x="178.8" y="566" font-size="7" font-style="italic" textLength="30" lengthAdjust="spacingAndGlyphs" fill="#3a3a3a">Collinsella</text>
<text x="87" y="576" font-size="7" font-style="italic" textLength="33" lengthAdjust="spacingAndGlyphs" fill="#3a3a3a">Citrobacter</text>
<text x="123" y="576.5" font-size="7" font-style="italic" textLength="38.2" lengthAdjust="spacingAndGlyphs" fill="#3a3a3a">Enterobacter</text>
<text x="8.5" y="589.8" font-size="7" font-style="italic" textLength="19.5" lengthAdjust="spacingAndGlyphs" fill="#3a3a3a">QUHQ</text>
<text x="186.3" y="588" font-size="7" font-style="italic" textLength="46.7" lengthAdjust="spacingAndGlyphs" fill="#3a3a3a">Bifidobacterium</text>
<text x="19.5" y="610.3" font-size="7" font-style="italic" textLength="33" lengthAdjust="spacingAndGlyphs" fill="#3a3a3a">DQ777915</text>
<text x="178" y="606.8" font-size="7" font-style="italic" textLength="34.5" lengthAdjust="spacingAndGlyphs" fill="#3a3a3a">PAC001043</text>
<text x="88.3" y="611" font-size="7" font-style="italic" textLength="61.7" lengthAdjust="spacingAndGlyphs" fill="#3a3a3a">Escherichia klebsiella</text>
<text x="34.5" y="627.8" font-size="7" font-style="italic" textLength="34.2" lengthAdjust="spacingAndGlyphs" fill="#3a3a3a">PAC000672</text>
<text x="165" y="628" font-size="7" font-style="italic" textLength="29.5" lengthAdjust="spacingAndGlyphs" fill="#3a3a3a">Veillonella</text>
<text x="55.5" y="643.5" font-size="7" font-style="italic" textLength="49.5" lengthAdjust="spacingAndGlyphs" fill="#3a3a3a">Faecalibacterium</text>
<text x="139.5" y="640.5" font-size="7" font-style="italic" textLength="52.5" lengthAdjust="spacingAndGlyphs" fill="#3a3a3a">Ruthenibacterium</text>
<text x="111.3" y="650.3" font-size="7" font-style="italic" textLength="35" lengthAdjust="spacingAndGlyphs" fill="#3a3a3a">Longicatena</text>
<circle cx="254" cy="517.4" r="3.1" fill="#46a84a" stroke="#1a1a1a" stroke-width="0.8"/>
<text x="260.4" y="519.8" font-size="7" font-style="italic" textLength="30.6" lengthAdjust="spacingAndGlyphs" fill="#3a3a3a">Firmicutes</text>
<circle cx="254" cy="527.7" r="3.1" fill="#245384" stroke="#1a1a1a" stroke-width="0.8"/>
<text x="260.4" y="530.1" font-size="7" font-style="italic" textLength="41.2" lengthAdjust="spacingAndGlyphs" fill="#3a3a3a">Bacteroidetes</text>
<circle cx="254" cy="538.1" r="3.1" fill="#f0a030" stroke="#1a1a1a" stroke-width="0.8"/>
<text x="260.4" y="540.5" font-size="7" font-style="italic" textLength="43.1" lengthAdjust="spacingAndGlyphs" fill="#3a3a3a">Actinobacteria</text>
<circle cx="254" cy="548.6" r="3.1" fill="#c8123f" stroke="#1a1a1a" stroke-width="0.8"/>
<text x="260.4" y="551.0" font-size="7" font-style="italic" textLength="43.9" lengthAdjust="spacingAndGlyphs" fill="#3a3a3a">Proteobacteria</text>
<text x="249.1" y="573.8" font-size="7" textLength="62.9" lengthAdjust="spacingAndGlyphs" fill="#3a3a3a">Spearman correlation</text>
<text x="249.1" y="581.5" font-size="7" textLength="40.1" lengthAdjust="spacingAndGlyphs" fill="#3a3a3a">coefficient (R)</text>
<defs><linearGradient id="cb" x1="0" y1="0" x2="0" y2="1"><stop offset="0" stop-color="#c0283a"/><stop offset="0.5" stop-color="#ffffff"/><stop offset="1" stop-color="#1f3f8f"/></linearGradient></defs>
<rect x="251.2" y="589.1" width="6.5" height="60.5" fill="url(#cb)" stroke="#222" stroke-width="0.8"/>
<text x="262.3" y="596.2" font-size="6.4" textLength="11.3" lengthAdjust="spacingAndGlyphs" fill="#2b2b2b">0.55</text>
<text x="266.4" y="621.4" font-size="6.4" fill="#2b2b2b">0</text>
<text x="261.6" y="646.6" font-size="6.4" textLength="14.4" lengthAdjust="spacingAndGlyphs" fill="#2b2b2b">−0.55</text>
<text x="328.1" y="505" font-size="12" font-weight="bold" fill="#111">G</text>
<path d="M356.30,564.40 L356.30,557.73 C356.30,555.14 358.42,554.20 361.00,554.20 C363.58,554.20 365.70,555.14 365.70,557.73 L365.70,564.40 Q365.70,565.70 364.10,565.80 Q361.00,566.60 357.90,565.80 Q356.30,565.70 356.30,564.40 Z" fill="#1a5190"/>
<circle cx="361" cy="547.9" r="4.85" fill="#1a5190"/>
<path d="M376.00,572.10 L376.00,563.65 C376.00,560.02 378.97,558.70 382.60,558.70 C386.23,558.70 389.20,560.02 389.20,563.65 L389.20,572.10 Q389.20,573.40 387.60,573.50 Q382.60,574.30 377.60,573.50 Q376.00,573.40 376.00,572.10 Z" fill="#1a5190" stroke="#fff" stroke-width="1.4" paint-order="stroke"/>
<circle cx="381.5" cy="551.7" r="4.85" fill="#1a5190" stroke="#fff" stroke-width="1.4" paint-order="stroke"/>
<path d="M342.20,577.80 L342.20,569.91 C342.20,565.87 345.51,564.40 349.55,564.40 C353.59,564.40 356.90,565.87 356.90,569.91 L356.90,577.80 Q356.90,579.10 355.30,579.20 Q349.55,580.00 343.80,579.20 Q342.20,579.10 342.20,577.80 Z" fill="#1a5190" stroke="#fff" stroke-width="1.4" paint-order="stroke"/>
<circle cx="349.8" cy="557.5" r="4.95" fill="#1a5190" stroke="#fff" stroke-width="1.4" paint-order="stroke"/>
<path d="M366.20,577.80 L366.20,569.57 C366.20,565.78 369.31,564.40 373.10,564.40 C376.89,564.40 380.00,565.78 380.00,569.57 L380.00,577.80 Q380.00,579.10 378.40,579.20 Q373.10,580.00 367.80,579.20 Q366.20,579.10 366.20,577.80 Z" fill="#1a5190" stroke="#fff" stroke-width="1.4" paint-order="stroke"/>
<circle cx="371.7" cy="557.5" r="4.95" fill="#1a5190" stroke="#fff" stroke-width="1.4" paint-order="stroke"/>
<path d="M353.10,583.60 L353.10,575.56 C353.10,571.19 356.68,569.60 361.05,569.60 C365.42,569.60 369.00,571.19 369.00,575.56 L369.00,583.60 Q369.00,584.90 367.40,585.00 Q361.05,585.80 354.70,585.00 Q353.10,584.90 353.10,583.60 Z" fill="#1a5190" stroke="#fff" stroke-width="1.4" paint-order="stroke"/>
<circle cx="361" cy="563.3" r="5.05" fill="#1a5190" stroke="#fff" stroke-width="1.4" paint-order="stroke"/>
<text x="341.7" y="601.6" font-size="7.4" textLength="47.9" lengthAdjust="spacingAndGlyphs" fill="#3a3a3a">Treatment-naive</text>
<text x="340.8" y="609.4" font-size="7.4" textLength="50" lengthAdjust="spacingAndGlyphs" fill="#3a3a3a">newly diagnosed</text>
<text x="355.6" y="616.9" font-size="7.4" textLength="20.2" lengthAdjust="spacingAndGlyphs" fill="#3a3a3a">DLBCL</text>
<text x="397" y="543.4" font-size="7.4" textLength="46.2" lengthAdjust="spacingAndGlyphs" fill="#3a3a3a">Evalution of gut</text>
<text x="404.1" y="550.9" font-size="7.4" textLength="31.7" lengthAdjust="spacingAndGlyphs" fill="#3a3a3a">microbiota</text>
<path d="M398.3,559.6 L440,559.6 L440,555.8 L447.9,563.6 L440,571.5 L440,567.4 L398.3,567.4 Z" fill="#fff" stroke="#5f84ad" stroke-width="0.9"/>
<path d="M463.80,524.60 L463.80,516.71 C463.80,512.89 466.93,511.50 470.75,511.50 C474.57,511.50 477.70,512.89 477.70,516.71 L477.70,524.60 Q477.70,525.90 476.10,526.00 Q470.75,526.80 465.40,526.00 Q463.80,525.90 463.80,524.60 Z" fill="#1a5190" stroke="#fff" stroke-width="1.4" paint-order="stroke"/>
<circle cx="471.5" cy="504.9" r="4.9" fill="#1a5190" stroke="#fff" stroke-width="1.4" paint-order="stroke"/>
<path d="M486.90,524.60 L486.90,516.41 C486.90,512.81 489.85,511.50 493.45,511.50 C497.05,511.50 500.00,512.81 500.00,516.41 L500.00,524.60 Q500.00,525.90 498.40,526.00 Q493.45,526.80 488.50,526.00 Q486.90,525.90 486.90,524.60 Z" fill="#1a5190" stroke="#fff" stroke-width="1.4" paint-order="stroke"/>
<circle cx="492.8" cy="504.6" r="4.9" fill="#1a5190" stroke="#fff" stroke-width="1.4" paint-order="stroke"/>
<path d="M473.50,530.70 L473.50,523.39 C473.50,518.63 477.39,516.90 482.15,516.90 C486.91,516.90 490.80,518.63 490.80,523.39 L490.80,530.70 Q490.80,532.00 489.20,532.10 Q482.15,532.90 475.10,532.10 Q473.50,532.00 473.50,530.70 Z" fill="#1a5190" stroke="#fff" stroke-width="1.4" paint-order="stroke"/>
<circle cx="481.8" cy="510.5" r="4.9" fill="#1a5190" stroke="#fff" stroke-width="1.4" paint-order="stroke"/>
<path d="M484.3,537.4 L491.2,544.6 L488,544.6 L488,555.4 L480.4,555.4 L480.4,544.6 L477.3,544.6 Z" fill="#fff" stroke="#5f84ad" stroke-width="0.9"/>
<text x="494.2" y="547.8" font-size="7.4" textLength="12" lengthAdjust="spacingAndGlyphs" fill="#2b2b2b">Low</text>
<text x="463.8" y="563.8" font-size="7.4" textLength="41.6" lengthAdjust="spacingAndGlyphs" fill="#3a3a3a">Abundance of</text>
<text x="458" y="571.8" font-size="7.4" textLength="53.4" lengthAdjust="spacingAndGlyphs" fill="#3a3a3a">enterobacteriacea</text>
<path d="M481.1,576.1 L487.8,576.1 L487.8,586.1 L491.2,586.1 L484.5,593.2 L477.7,586.1 L481.1,586.1 Z" fill="#c90a2c" stroke="#8a0a20" stroke-width="0.3"/>
<text x="498.5" y="588.1" font-size="7.4" textLength="13.4" lengthAdjust="spacingAndGlyphs" fill="#2b2b2b">High</text>
<path d="M469.70,621.80 L469.70,613.20 C469.70,609.46 472.76,608.10 476.50,608.10 C480.24,608.10 483.30,609.46 483.30,613.20 L483.30,621.80 Q483.30,623.10 481.70,623.20 Q476.50,624.00 471.30,623.20 Q469.70,623.10 469.70,621.80 Z" fill="#f0920a" stroke="#fff" stroke-width="1.4" paint-order="stroke"/>
<circle cx="477.2" cy="601.4" r="4.8" fill="#f0920a" stroke="#fff" stroke-width="1.4" paint-order="stroke"/>
<path d="M480.10,627.70 L480.10,619.70 C480.10,615.30 483.70,613.70 488.10,613.70 C492.50,613.70 496.10,615.30 496.10,619.70 L496.10,627.70 Q496.10,629.00 494.50,629.10 Q488.10,629.90 481.70,629.10 Q480.10,629.00 480.10,627.70 Z" fill="#f0920a" stroke="#fff" stroke-width="1.4" paint-order="stroke"/>
<circle cx="488.1" cy="606.5" r="4.8" fill="#f0920a" stroke="#fff" stroke-width="1.4" paint-order="stroke"/>
<text x="468.9" y="642.6" font-size="7.4" textLength="31.7" lengthAdjust="spacingAndGlyphs" fill="#3a3a3a">Microbiota</text>
<text x="456" y="651.4" font-size="7.4" textLength="57" lengthAdjust="spacingAndGlyphs" fill="#3a3a3a">intervention before</text>
<text x="463.3" y="659.5" font-size="7.4" textLength="42.5" lengthAdjust="spacingAndGlyphs" fill="#3a3a3a">chemotherapy</text>
<rect x="0.5" y="0.5" width="519" height="666" fill="none" stroke="#4a4a4a" stroke-width="1.1"/>
</svg></div></body></html>
